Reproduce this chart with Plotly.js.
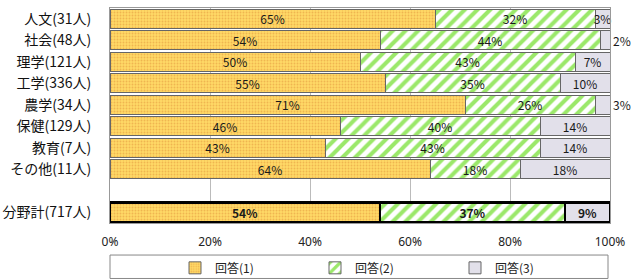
<!DOCTYPE html>
<html><head><meta charset="utf-8">
<script src="https://cdn.plot.ly/plotly-3.0.1.min.js"></script>
<style>body{margin:0;background:#fff}#c{width:631px;height:279px}</style>
</head><body><div id="c"></div>
<script>
const categories = ['人文(31人)','社会(48人)','理学(121人)','工学(336人)','農学(34人)','保健(129人)','教育(7人)','その他(11人)',' ','分野計(717人)'];
const answer1 = [65,54,50,55,71,46,43,64,null,54];
const answer2 = [32,44,43,35,26,40,43,18,null,37];
const answer3 = [3,2,7,10,3,14,14,18,null,9];
const seriesNames = ['回答(1)','回答(2)','回答(3)'];
const tickVals = [0,20,40,60,80,100];
const tickText = ['0%','20%','40%','60%','80%','100%'];

const isTotal = categories.map(c => c.startsWith('分野計'));
const lineW = isTotal.map(t => t ? 2.5 : 1);
const lineC = isTotal.map(t => t ? '#000' : '#666');
const txt = arr => arr.map((v,i) => v==null ? '' : (isTotal[i] ? '<b>'+v+'%</b>' : v+'%'));
const font = {family:'Noto Sans CJK JP, Noto Sans, sans-serif', size:12, color:'#1a1a1a'};

function mk(vals, name, fill, pattern, tpos){
  const t = {type:'bar', orientation:'h', y:categories, x:vals, name:name,
    text:txt(vals), textposition:tpos, insidetextanchor:'middle', constraintext:'none', textangle:0,
    textfont:font, outsidetextfont:font, insidetextfont:font, cliponaxis:false,
    hoverinfo:'skip',
    marker:{color:fill, line:{width:lineW, color:lineC}}};
  if (pattern) t.marker.pattern = pattern;
  return t;
}
const t3pos = answer3.map((v,i) => (v!=null && v<=2) || i===4 ? 'outside' : 'inside');
const data = [
  mk(answer1, seriesNames[0], '#FFD966', {shape:'.', fgcolor:'#F0B550', bgcolor:'#FFD966', size:3, solidity:0.3}, 'inside'),
  mk(answer2, seriesNames[1], '#FFFFFF', {shape:'/', fgcolor:'#9BE86A', bgcolor:'#FFFFFF', size:9, solidity:0.45}, 'inside'),
  mk(answer3, seriesNames[2], '#E2E0EA', null, t3pos)
];

const layout = {
  width:631, height:279, barmode:'stack', bargap:0.1,
  margin:{l:110, r:21, t:8, b:56, autoexpand:false},
  paper_bgcolor:'#fff', plot_bgcolor:'#fff',
  font:font, showlegend:true,
  xaxis:{range:[0,100], tickvals:tickVals, ticktext:tickText, showgrid:true, gridcolor:'#BBBBBB',
    showline:true, mirror:true, linecolor:'#999', zeroline:false, ticks:'', ticklabelstandoff:8,
    tickfont:{family:'Noto Sans, sans-serif', size:12, color:'#222'}},
  yaxis:{type:'category', categoryorder:'array', categoryarray:categories, autorange:'reversed',
    showline:true, mirror:true, linecolor:'#999', showgrid:false, ticks:'', ticklabelstandoff:15,
    tickfont:{family:'Noto Sans CJK JP, sans-serif', size:14, color:'#111'}},
  legend:{orientation:'h', x:0.13, xanchor:'left', yref:'container', y:0.04, yanchor:'middle', entrywidth:95,
    font:{family:'Noto Sans CJK JP, sans-serif', size:12, color:'#222'}, traceorder:'normal', bgcolor:'rgba(0,0,0,0)'},
  shapes:[{type:'rect', xref:'paper', yref:'paper', x0:0, x1:0.996, y0:-0.149, y1:-0.258, line:{color:'#888', width:1}}]
};
Plotly.newPlot('c', data, layout, {displayModeBar:false, staticPlot:true});
</script></body></html>
